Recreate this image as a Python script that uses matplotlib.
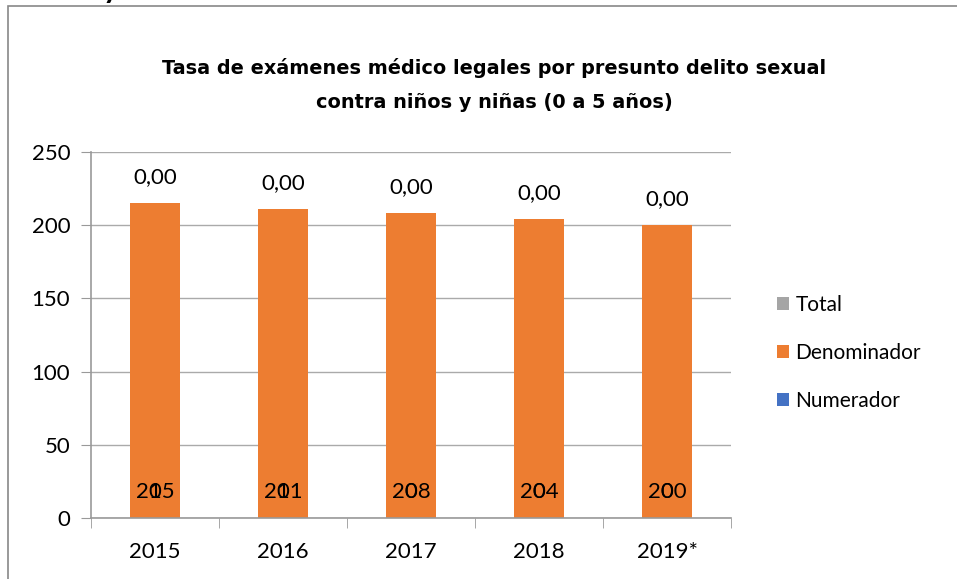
import matplotlib.pyplot as plt
from matplotlib.patches import Rectangle
import numpy as np

years = ["2015", "2016", "2017", "2018", "2019*"]
numerador = [0, 0, 0, 0, 0]
denominador = [215, 211, 208, 204, 200]
total = [0.0, 0.0, 0.0, 0.0, 0.0]

plt.rcParams['font.family'] = ['Lato', 'DejaVu Sans']

fig = plt.figure(figsize=(9.57, 5.79), dpi=100)
ax = fig.add_axes([91 / 957, 1 - 518 / 579, 640 / 957, 366 / 579])

# chart border (cut at top/left like the screenshot)
fig.patches.append(Rectangle((8 / 957, -0.1), 1.2, 1 - 6 / 579 + 0.1, transform=fig.transFigure,
                             fill=False, edgecolor='#888888', lw=1.2))
fig.text(111 / 957, 1 + 2 / 579, "y", fontsize=22, fontweight='bold', ha='center', va='baseline')

x = np.arange(len(years))
w = 0.39
c_num, c_den, c_tot = '#4472C4', '#ED7D31', '#A5A5A5'

b_num = ax.bar(x, numerador, w, color=c_num, label='Numerador')
b_den = ax.bar(x, denominador, w, bottom=numerador, color=c_den, label='Denominador')
base = np.array(numerador) + np.array(denominador)
b_tot = ax.bar(x, total, w, bottom=base, color=c_tot, label='Total')

for i in range(len(years)):
    ax.annotate(f"{denominador[i]}", (x[i], 0), xytext=(0, 18.7), textcoords='offset points',
                ha='center', va='center', fontsize=16)
    ax.annotate(f"{numerador[i]}", (x[i], 0), xytext=(0, 18.7), textcoords='offset points',
                ha='center', va='center', fontsize=16)
    ax.annotate(f"{total[i]:.2f}".replace('.', ','), (x[i], base[i]), xytext=(0, 19),
                textcoords='offset points', ha='center', va='center', fontsize=16)

ax.set_xlim(-0.5, len(years) - 0.5)
ax.set_ylim(0, 250)
ax.set_yticks(np.arange(0, 251, 50))
ax.set_xticks(x)
ax.set_xticklabels(years, fontsize=16)
ax.set_xticks(np.arange(-0.5, len(years), 1), minor=True)
ax.tick_params(axis='x', which='major', length=0, pad=17)
ax.tick_params(axis='x', which='minor', length=7, color='#999999', direction='out')
ax.tick_params(axis='y', labelsize=16, length=7, color='#999999', pad=8)
ax.yaxis.grid(True, color='#AAAAAA', lw=1)
ax.set_axisbelow(True)
for s in ['top', 'right']:
    ax.spines[s].set_visible(False)
for s in ['left', 'bottom']:
    ax.spines[s].set_color('#999999')
    ax.spines[s].set_linewidth(1.2)

fig.text(494 / 957, 1 - 68 / 579, "Tasa de exámenes médico legales por presunto delito sexual",
         ha='center', va='center', fontsize=13.9, fontweight='bold', family='DejaVu Sans')
fig.text(494 / 957, 1 - 103 / 579, "contra niños y niñas (0 a 5 años)",
         ha='center', va='center', fontsize=13.9, fontweight='bold', family='DejaVu Sans')

handles = [b_tot, b_den, b_num]
leg = fig.legend(handles, ['Total', 'Denominador', 'Numerador'], loc='center left',
                 bbox_to_anchor=(758 / 957, 1 - 353 / 579), frameon=False, fontsize=15,
                 handlelength=0.6, handleheight=0.6, handletextpad=0.3, labelspacing=1.35)

fig.savefig('out.png', dpi=100)
